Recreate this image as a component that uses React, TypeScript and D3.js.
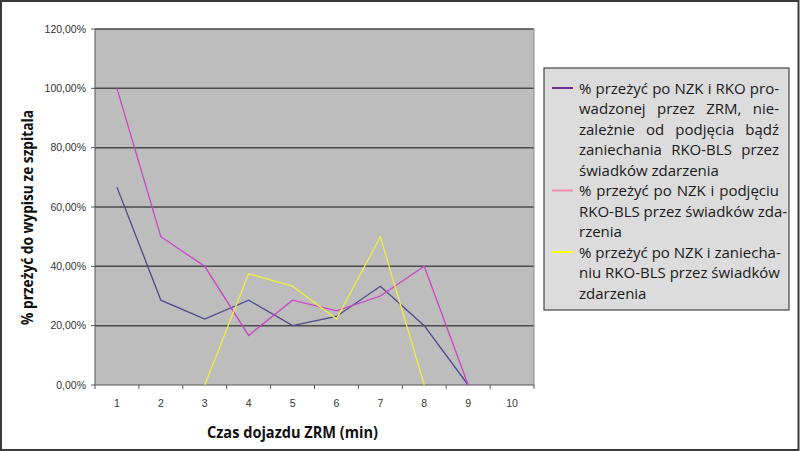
import React from "react";
import * as d3 from "d3";

const categories = ["1", "2", "3", "4", "5", "6", "7", "8", "9", "10"];
const seriesAll: (number | null)[] = [0.667, 0.286, 0.222, 0.286, 0.2, 0.231, 0.333, 0.2, 0, null];
const seriesBLS: (number | null)[] = [1.0, 0.5, 0.4, 0.167, 0.286, 0.25, 0.3, 0.4, 0, null];
const seriesNoBLS: (number | null)[] = [null, null, 0, 0.375, 0.333, 0.222, 0.5, 0, null, null];
const yTicks = [0, 0.2, 0.4, 0.6, 0.8, 1.0, 1.2];

const legendItems = [
  {
    lines: [
      "% przeżyć po NZK i RKO pro-",
      "wadzonej przez ZRM, nie-",
      "zależnie od podjęcia bądź",
      "zaniechania RKO-BLS przez",
      "świadków zdarzenia",
    ],
    swatch: "#6a2e98",
  },
  {
    lines: ["% przeżyć po NZK i podjęciu", "RKO-BLS przez świadków zda-", "rzenia"],
    swatch: "#f08cb0",
  },
  {
    lines: ["% przeżyć po NZK i zaniecha-", "niu RKO-BLS przez świadków", "zdarzenia"],
    swatch: "#ffff00",
  },
];

const seriesDefs = [
  { data: seriesAll, color: "#4e4a8e" },
  { data: seriesBLS, color: "#cc44c8" },
  { data: seriesNoBLS, color: "#eeee44" },
];

const W = 800;
const H = 451;
const plot = { left: 95, right: 534, top: 29, bottom: 385 };
const LEG_SIZE = 15;
const LEG_FAMILY = "Open Sans";
const LEG_FONT = `${LEG_SIZE}px "${LEG_FAMILY}"`;

let ctx: CanvasRenderingContext2D | null = null;
function measure(text: string, font: string): number {
  if (!ctx) ctx = document.createElement("canvas").getContext("2d");
  if (!ctx) return text.length * 7;
  ctx.font = font;
  return ctx.measureText(text).width;
}

export default function App() {
  const x = d3.scaleBand<string>().domain(categories).range([plot.left, plot.right]);
  const y = d3.scaleLinear().domain([0, 1.2]).range([plot.bottom, plot.top]);
  const fmt = (v: number) => d3.format(".2f")(v * 100).replace(".", ",") + "%";

  const line = d3
    .line<number | null>()
    .defined((d) => d !== null)
    .x((_, i) => (x(categories[i]) as number) + x.bandwidth() / 2)
    .y((d) => y(d as number));

  const legX = 544;
  const legY = 68;
  const legW = 245;
  const legH = 242;
  const textX = 579;
  const textW = 200;
  const rowH = 20.5;
  const firstRow = 88;

  const rows: { text: string; justify: boolean; swatch?: string }[] = [];
  legendItems.forEach((it) => {
    it.lines.forEach((l, i) => {
      rows.push({ text: l, justify: i < it.lines.length - 1, swatch: i === 0 ? it.swatch : undefined });
    });
  });

  return (
    <svg width={W} height={H} style={{ position: "absolute", left: 0, top: 0 }}>
      <rect x={0} y={0} width={W} height={H} fill="#ffffff" />
      <rect x={1} y={1} width={W - 2.5} height={H - 2} fill="none" stroke="#3a3a3a" strokeWidth={2} />
      <rect
        x={plot.left}
        y={plot.top}
        width={plot.right - plot.left}
        height={plot.bottom - plot.top}
        fill="#bdbdbd"
      />
      {yTicks.map((t) => (
        <g key={t}>
          {t > 0 && (
            <line x1={plot.left} x2={plot.right} y1={y(t)} y2={y(t)} stroke="#4a4a4a" strokeWidth={1.5} />
          )}
          <line x1={plot.left - 4} x2={plot.left} y1={y(t)} y2={y(t)} stroke="#555" strokeWidth={1} />
          <text
            x={86}
            y={y(t) + 3.5}
            textAnchor="end"
            fontFamily="Liberation Sans, Arial, sans-serif"
            fontSize={10.5}
            fill="#333"
          >
            {fmt(t)}
          </text>
        </g>
      ))}
      <line x1={plot.left} x2={plot.left} y1={plot.top} y2={plot.bottom} stroke="#555" strokeWidth={1} />
      <line x1={plot.right} x2={plot.right} y1={plot.top} y2={plot.bottom} stroke="#888" strokeWidth={1} />
      <line x1={plot.left} x2={plot.right} y1={plot.bottom} y2={plot.bottom} stroke="#555" strokeWidth={1} />
      {categories.map((c, i) => (
        <g key={c}>
          <line
            x1={(x(c) as number)}
            x2={(x(c) as number)}
            y1={plot.bottom}
            y2={plot.bottom + 4}
            stroke="#555"
          />
          {i === categories.length - 1 && (
            <line x1={plot.right} x2={plot.right} y1={plot.bottom} y2={plot.bottom + 4} stroke="#555" />
          )}
          <text
            x={(x(c) as number) + x.bandwidth() / 2}
            y={407}
            textAnchor="middle"
            fontFamily="Liberation Sans, Arial, sans-serif"
            fontSize={10.5}
            fill="#333"
          >
            {c}
          </text>
        </g>
      ))}
      {seriesDefs.map((s, i) => (
        <path key={i} d={line(s.data) || ""} fill="none" stroke={s.color} strokeWidth={1.3} />
      ))}
      <text
        x={292.5}
        y={438}
        textAnchor="middle"
        fontFamily="Open Sans, sans-serif"
        fontWeight="bold"
        fontSize={16}
        textLength={171}
        lengthAdjust="spacingAndGlyphs"
        fill="#111"
      >
        Czas dojazdu ZRM (min)
      </text>
      <text
        transform="translate(33,217.5) rotate(-90)"
        textAnchor="middle"
        fontFamily="Open Sans, sans-serif"
        fontWeight="bold"
        fontSize={16}
        textLength={215}
        lengthAdjust="spacingAndGlyphs"
        fill="#111"
      >
        % przeżyć do wypisu ze szpitala
      </text>
      <rect x={legX} y={legY} width={legW} height={legH} fill="#dcdcdc" stroke="#444" strokeWidth={1.2} />
      {rows.map((r, i) => {
        const cy = firstRow + i * rowH;
        const words = r.text.split(" ");
        let ws = 0;
        if (r.justify && words.length > 1) {
          const nat = measure(r.text, LEG_FONT);
          ws = Math.max(0, (textW - nat) / (words.length - 1));
        }
        return (
          <g key={i}>
            {r.swatch && (
              <line x1={552} x2={573} y1={cy} y2={cy} stroke={r.swatch} strokeWidth={2} />
            )}
            <text
              x={textX}
              y={cy + 5.5}
              fontFamily={LEG_FAMILY}
              fontSize={LEG_SIZE}
              fill="#1a1a1a"
              style={{ wordSpacing: `${ws}px` }}
            >
              {r.text}
            </text>
          </g>
        );
      })}
    </svg>
  );
}
